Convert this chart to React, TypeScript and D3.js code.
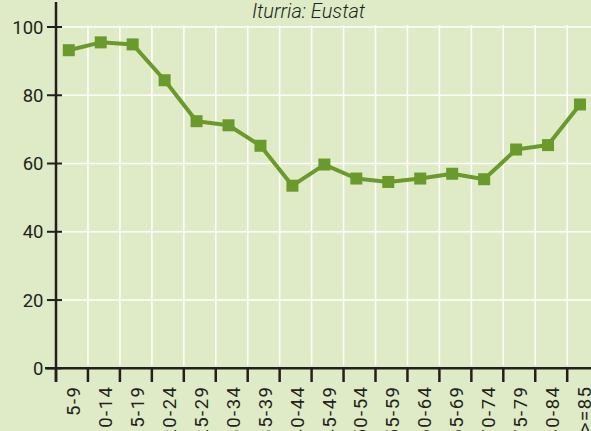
import React from "react";
import * as d3 from "d3";

const categories = ["5-9","10-14","15-19","20-24","25-29","30-34","35-39","40-44","45-49","50-54","55-59","60-64","65-69","70-74","75-79","80-84",">=85"];
const values = [93.2,95.5,94.9,84.4,72.4,71.2,65.2,53.5,59.7,55.6,54.6,55.6,57.0,55.4,64.1,65.4,77.3];
const yTicks = [0,20,40,60,80,100];
const title = "Iturria: Eustat";

const W = 591, H = 431;
const BG = "#deebc6";
const GREEN = "#6b9a2c";
const INK = "#231f20";
const FONT = "Roboto, 'DejaVu Sans', sans-serif";

export default function App() {
  const x0 = 56;
  const step = 31.95;
  const x = d3.scaleBand<string>().domain(categories).range([x0, x0 + step * categories.length]).padding(0);
  const y = d3.scaleLinear().domain([0, 100]).range([368.3, 27]);
  const bw = x.bandwidth();
  const px = (c: string) => (x(c) as number) + bw * 0.4;
  const line = d3.line<number>().x((_, i) => px(categories[i])).y(d => y(d));
  const yBase = y(0);

  return (
    <svg width={W} height={H} style={{ position: "absolute", left: 0, top: 0, background: BG }} fontFamily={FONT}>
      <rect x={0} y={0} width={W} height={H} fill={BG} />
      {yTicks.filter(t => t > 0).map(t => (
        <line key={"h" + t} x1={x0} x2={W} y1={y(t)} y2={y(t)} stroke="#ffffff" strokeWidth={1.5} />
      ))}
      {categories.slice(1).map(c => (
        <line key={"v" + c} x1={x(c) as number} x2={x(c) as number} y1={y(100) - 2} y2={yBase - 3} stroke="#ffffff" strokeWidth={1.5} />
      ))}
      <text x={308.5} y={17.5} textAnchor="middle" fontStyle="italic" fontWeight={300} fontSize={20} fill={INK}>{title}</text>
      <line x1={x0} x2={x0} y1={2} y2={382} stroke={INK} strokeWidth={2.5} />
      <line x1={45} x2={W} y1={yBase} y2={yBase} stroke={INK} strokeWidth={2.5} />
      {yTicks.map(t => (
        <g key={"yt" + t}>
          <line x1={47} x2={62} y1={y(t)} y2={y(t)} stroke={INK} strokeWidth={2} />
          <text x={43.5} y={y(t)} dy="0.36em" textAnchor="end" fontSize={18.5} fill={INK}>{t}</text>
        </g>
      ))}
      {categories.map(c => (
        <g key={"xt" + c}>
          <line x1={x(c) as number} x2={x(c) as number} y1={yBase} y2={382} stroke={INK} strokeWidth={2.5} />
          <text transform={`translate(${(x(c) as number) + bw * 0.54},385.5) rotate(-90)`} dy="0.36em" textAnchor="end" fontSize={18.5} letterSpacing={1.5} fill={INK}>{c}</text>
        </g>
      ))}
      <path d={line(values) || ""} fill="none" stroke={GREEN} strokeWidth={4} strokeLinejoin="round" />
      {values.map((v, i) => (
        <rect key={"m" + i} x={px(categories[i]) - 6} y={y(v) - 6} width={12} height={12} fill={GREEN} />
      ))}
    </svg>
  );
}
